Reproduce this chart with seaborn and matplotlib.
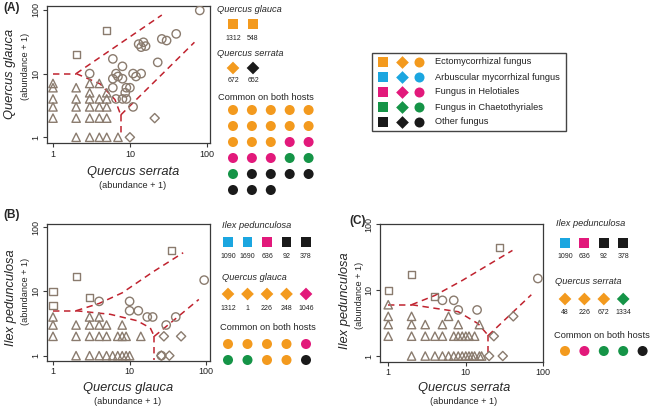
import numpy as np
import pandas as pd
import matplotlib
matplotlib.use("Agg")
import matplotlib.pyplot as plt
from matplotlib.ticker import NullLocator
from matplotlib.patches import Rectangle
import seaborn as sns

# ---------------- data (abundance + 1) ----------------
# Panel A : x = Quercus serrata, y = Quercus glauca
A_sq_x = [5, 2]
A_sq_y = [48, 20]
A_tri_x = [1, 1, 1, 1, 1, 2, 2, 2, 2, 2, 3, 3, 3, 3, 3, 3, 4, 4, 4, 4, 4, 5, 5, 5, 5, 5, 7]
A_tri_y = [7, 6, 4, 3, 2, 6, 4, 3, 2, 1, 7, 5, 4, 3, 2, 1, 7, 4, 3, 2, 1, 5, 4, 3, 2, 1, 1]
A_cir_x = [81, 40, 26, 30, 13, 15, 14, 16, 23, 6, 8, 3, 6.6, 7, 6, 8, 11, 12, 14, 6, 9, 10, 8.7, 6.6, 8, 9, 11]
A_cir_y = [98, 42, 35, 33, 29, 31, 26, 27, 15, 17, 13, 10, 10, 9, 8.3, 8.3, 10, 9, 10, 6, 6, 6, 5, 4, 4, 4, 3]
A_dia_x = [21, 10]
A_dia_y = [2, 1]
A_iso_left_x, A_iso_left_y = [1, 2], [10, 10]
A_iso_up_x, A_iso_up_y = [2, 26], [10, 83]
A_iso_mid_x, A_iso_mid_y = [2, 4.1, 6.4, 7.6], [10, 6.9, 3.9, 2.24]
A_iso_vert_x, A_iso_vert_y = [7.6, 7.6], [2.24, 1]
A_iso_low_x, A_iso_low_y = [7.6, 69], [2.24, 31]

# Panel B : x = Quercus glauca, y = Ilex pedunculosa
B_sq_x = [1, 1, 2, 3, 35]
B_sq_y = [10, 6, 17, 8, 44]
B_tri_x = [1, 3, 4, 1, 2, 3, 4, 5, 8, 1, 2, 3, 4, 5, 7, 8, 9, 14, 2, 3, 4, 5, 6, 7, 8, 9, 10]
B_tri_y = [4, 4, 4, 3, 3, 3, 3, 3, 3, 2, 2, 2, 2, 2, 2, 2, 2, 2, 1, 1, 1, 1, 1, 1, 1, 1, 1]
B_cir_x = [4, 10, 10, 13, 17, 20, 30, 40, 94, 26]
B_cir_y = [7, 7, 5, 5, 4, 4, 3, 4, 15, 1]
B_dia_x = [28, 47, 26, 33]
B_dia_y = [2, 2, 1, 1]
B_iso_left_x, B_iso_left_y = [1, 2], [5, 5]
B_iso_up_x, B_iso_up_y = [2, 4, 8, 20, 50], [5, 6.5, 9.5, 20, 40]
B_iso_mid_x, B_iso_mid_y = [2, 5.6, 12.5, 18.6, 21], [5, 4.4, 3.5, 2.7, 2]
B_iso_vert_x, B_iso_vert_y = [21, 21], [2, 0.85]
B_iso_low_x, B_iso_low_y = [21, 80], [2, 7.5]

# Panel C : x = Quercus serrata, y = Ilex pedunculosa
C_sq_x = [1, 2, 4, 27]
C_sq_y = [10, 17, 8, 44]
C_tri_x = [1, 1, 2, 6, 1, 2, 3, 5, 8, 15, 1, 2, 3, 4, 5, 7, 8, 9, 10, 11, 13,
           2, 3, 4, 5, 6, 7, 8, 9, 10, 11, 12, 13, 15, 16]
C_tri_y = [6, 4, 4, 4, 3, 3, 3, 3, 3, 3, 2, 2, 2, 2, 2, 2, 2, 2, 2, 2, 2,
           1, 1, 1, 1, 1, 1, 1, 1, 1, 1, 1, 1, 1, 1]
C_cir_x = [5, 7, 8, 14, 85]
C_cir_y = [7, 7, 5, 5, 15]
C_dia_x = [23, 20, 30, 41]
C_dia_y = [2, 1, 1, 4]
C_iso_left_x, C_iso_left_y = [1, 2], [6, 6]
C_iso_up_x, C_iso_up_y = [2, 4, 9, 40], [6, 8.3, 14, 40]
C_iso_mid_x, C_iso_mid_y = [2, 4, 8, 14.4, 19.5], [6, 5.3, 4.7, 3.1, 2.05]
C_iso_vert_x, C_iso_vert_y = [19.5, 19.5], [2.05, 1]
C_iso_low_x, C_iso_low_y = [19.5, 70], [2.05, 8.5]

# fungal groups
group_keys = ["ecto", "arb", "helo", "chaeto", "other"]
group_names = ["Ectomycorrhizal fungus", "Arbuscular mycorrhizal fungus",
               "Fungus in Helotiales", "Fungus in Chaetothyriales", "Other fungus"]
group_colors = ["#F39A1E", "#1BA6E0", "#E2197B", "#159447", "#1A1A1A"]

# indicator OTUs (side legends)
A_glauca_cats, A_glauca_ids = ["ecto", "ecto"], ["1312", "548"]
A_serrata_cats, A_serrata_ids = ["ecto", "other"], ["672", "652"]
A_common_cats = ["ecto"] * 13 + ["helo"] * 5 + ["chaeto"] * 3 + ["other"] * 7
B_ilex_cats, B_ilex_ids = ["arb", "arb", "helo", "other", "other"], ["1090", "1690", "636", "92", "378"]
B_glauca_cats, B_glauca_ids = ["ecto", "ecto", "ecto", "ecto", "helo"], ["1312", "1", "226", "248", "1046"]
B_common_cats = ["ecto", "ecto", "ecto", "ecto", "helo", "chaeto", "chaeto", "ecto", "ecto", "other"]
C_ilex_cats, C_ilex_ids = ["arb", "helo", "other", "other"], ["1090", "636", "92", "378"]
C_serrata_cats, C_serrata_ids = ["ecto", "ecto", "ecto", "chaeto"], ["48", "226", "672", "1334"]
C_common_cats = ["ecto", "helo", "chaeto", "chaeto", "other"]

# ---------------- style ----------------
sns.set_theme(style="ticks")
plt.rcParams["font.family"] = ["Liberation Sans", "DejaVu Sans"]
PT = "#8A7B6E"
RED = "#C0232F"
SPINE = "#3A3A3A"
pal = dict(zip(group_keys, group_colors))

W, H = 651, 407
fig = plt.figure(figsize=(W / 100, H / 100), dpi=100)


def px_axes(l, t, r, b):
    return fig.add_axes([l / W, 1 - b / H, (r - l) / W, (b - t) / H])


def panel(ax, pts, lines, xlim, ylim):
    ax.set_xscale("log")
    ax.set_yscale("log")
    for (xs, ys), mk, s in zip(pts, ["s", "^", "o", "D"], [26, 36, 36, 22]):
        sns.scatterplot(x=xs, y=ys, marker=mk, s=s, facecolor="none", edgecolor=PT,
                        linewidth=1.0, ax=ax, legend=False, zorder=3)
    for xs, ys in lines:
        sns.lineplot(x=xs, y=ys, sort=False, estimator=None, color=RED, linewidth=1.1,
                     linestyle=(0, (4.2, 3.0)), ax=ax, legend=False, zorder=2)
    for c in ax.collections:
        c.set_facecolor("none")
        c.set_edgecolor(PT)
        c.set_linewidth(1.0)
    ax.set_xlim(*xlim)
    ax.set_ylim(*ylim)
    ax.set_xticks([1, 10, 100])
    ax.set_xticklabels(["1", "10", "100"])
    ax.set_yticks([1, 10, 100])
    ax.set_yticklabels(["1", "10", "100"])
    ax.xaxis.set_minor_locator(NullLocator())
    ax.yaxis.set_minor_locator(NullLocator())
    ax.tick_params(which="major", direction="out", length=3, width=0.8, color=SPINE,
                   labelsize=6.5, labelcolor="#222222", pad=1.5)
    for lab in ax.get_yticklabels():
        lab.set_rotation(90)
        lab.set_va("center")
        lab.set_ha("right")
    ax.set_xlabel("")
    ax.set_ylabel("")
    for s in ax.spines.values():
        s.set_color(SPINE)
        s.set_linewidth(0.9)


axA = px_axes(47, 6, 210, 143.3)
panel(axA,
      [(A_sq_x, A_sq_y), (A_tri_x, A_tri_y), (A_cir_x, A_cir_y), (A_dia_x, A_dia_y)],
      [(A_iso_left_x, A_iso_left_y), (A_iso_up_x, A_iso_up_y), (A_iso_mid_x, A_iso_mid_y),
       (A_iso_vert_x, A_iso_vert_y), (A_iso_low_x, A_iso_low_y)],
      (0.836, 110), (0.805, 115))

axB = px_axes(47, 224, 210, 361)
panel(axB,
      [(B_sq_x, B_sq_y), (B_tri_x, B_tri_y), (B_cir_x, B_cir_y), (B_dia_x, B_dia_y)],
      [(B_iso_left_x, B_iso_left_y), (B_iso_up_x, B_iso_up_y), (B_iso_mid_x, B_iso_mid_y),
       (B_iso_vert_x, B_iso_vert_y), (B_iso_low_x, B_iso_low_y)],
      (0.835, 112), (0.826, 112))

axC = px_axes(380, 224, 543.3, 361.7)
panel(axC,
      [(C_sq_x, C_sq_y), (C_tri_x, C_tri_y), (C_cir_x, C_cir_y), (C_dia_x, C_dia_y)],
      [(C_iso_left_x, C_iso_left_y), (C_iso_up_x, C_iso_up_y), (C_iso_mid_x, C_iso_mid_y),
       (C_iso_vert_x, C_iso_vert_y), (C_iso_low_x, C_iso_low_y)],
      (0.783, 97), (0.82, 100.7))

# ---------------- overlay (pixel coordinates) ----------------
ov = fig.add_axes([0, 0, 1, 1])
ov.patch.set_alpha(0)

SIZES = {"s": 50, "D": 42, "o": 52}


def markers_row(x0, y0, dx, cats, marker):
    xs = [x0 + i * dx for i in range(len(cats))]
    ys = [y0] * len(cats)
    sns.scatterplot(x=xs, y=ys, hue=cats, palette=pal, marker=marker, s=SIZES[marker],
                    linewidth=0, ax=ov, legend=False)
    return xs


def host_block(tx, ty, title, x0, my, dx, cats, ids, marker, ly):
    ov.text(tx, ty, title, style="italic", fontsize=6.7, ha="left", va="center")
    xs = markers_row(x0, my, dx, cats, marker)
    for x, t in zip(xs, ids):
        ov.text(x, ly, t, fontsize=5, ha="center", va="center", color="#222222")


def common_block(tx, ty, x0, y0, dx, dy, cats, ncol):
    ov.text(tx, ty, "Common on both hosts", fontsize=6.7, ha="left", va="center")
    for r in range(0, len(cats), ncol):
        markers_row(x0, y0 + (r // ncol) * dy, dx, cats[r:r + ncol], "o")


# Panel A side legend
host_block(217, 9, "Quercus glauca", 233, 24, 20, A_glauca_cats, A_glauca_ids, "s", 38)
host_block(217, 53, "Quercus serrata", 233, 68, 20, A_serrata_cats, A_serrata_ids, "D", 81)
common_block(218, 97, 233, 110, 18.9, 16, A_common_cats, 5)

# Panel B side legend
host_block(222, 226, "Ilex pedunculosa", 228, 242, 19.5, B_ilex_cats, B_ilex_ids, "s", 257)
host_block(222, 278, "Quercus glauca", 228, 294, 19.5, B_glauca_cats, B_glauca_ids, "D", 308)
common_block(220, 327, 228, 344, 19.5, 16, B_common_cats, 5)

# Panel C side legend
host_block(556, 224, "Ilex pedunculosa", 565, 243, 19.4, C_ilex_cats, C_ilex_ids, "s", 257)
host_block(555, 281, "Quercus serrata", 565, 299, 19.4, C_serrata_cats, C_serrata_ids, "D", 312)
common_block(554, 336, 565, 351, 19.4, 16, C_common_cats, 5)

# Group legend box
ov.add_patch(Rectangle((372, 53), 194, 78, fill=False, edgecolor="#444444", linewidth=1.0))
for i, (k, name) in enumerate(zip(group_keys, group_names)):
    y = 62 + i * 15
    for mx, mk in zip([383, 402, 419], ["s", "D", "o"]):
        sns.scatterplot(x=[mx], y=[y], hue=[k], palette=pal, marker=mk, s=SIZES[mk],
                        linewidth=0, ax=ov, legend=False)
    ov.text(435, y, name, fontsize=6.7, ha="left", va="center", color="#222222")

# Panel letters
ov.text(3, 8, "(A)", fontsize=8.5, fontweight="bold", ha="left", va="center")
ov.text(3, 215, "(B)", fontsize=8.5, fontweight="bold", ha="left", va="center")
ov.text(349, 221, "(C)", fontsize=8.5, fontweight="bold", ha="left", va="center")

# Axis titles
def ylab(x, yc, name, sub_dy):
    ov.text(x, yc, name, rotation=90, style="italic", fontsize=9.3, ha="center", va="center")
    ov.text(x + 14.5, yc - sub_dy, "(abundance + 1)", rotation=90, fontsize=6.6,
            ha="center", va="center")


def xlab(xc, y, name):
    ov.text(xc, y, name, style="italic", fontsize=9.3, ha="center", va="center")
    ov.text(xc, y + 13, "(abundance + 1)", fontsize=6.6, ha="center", va="center")


ylab(10.5, 73.5, "Quercus glauca", 7)
xlab(133, 172, "Quercus serrata")
ylab(11.5, 298, "Ilex pedunculosa", 7)
xlab(128, 388, "Quercus glauca")
ylab(345, 301, "Ilex pedunculosa", 6)
xlab(464, 388, "Quercus serrata")

ov.set_xlim(0, W)
ov.set_ylim(H, 0)
ov.axis("off")

fig.savefig("out.png", dpi=100, facecolor="white")
